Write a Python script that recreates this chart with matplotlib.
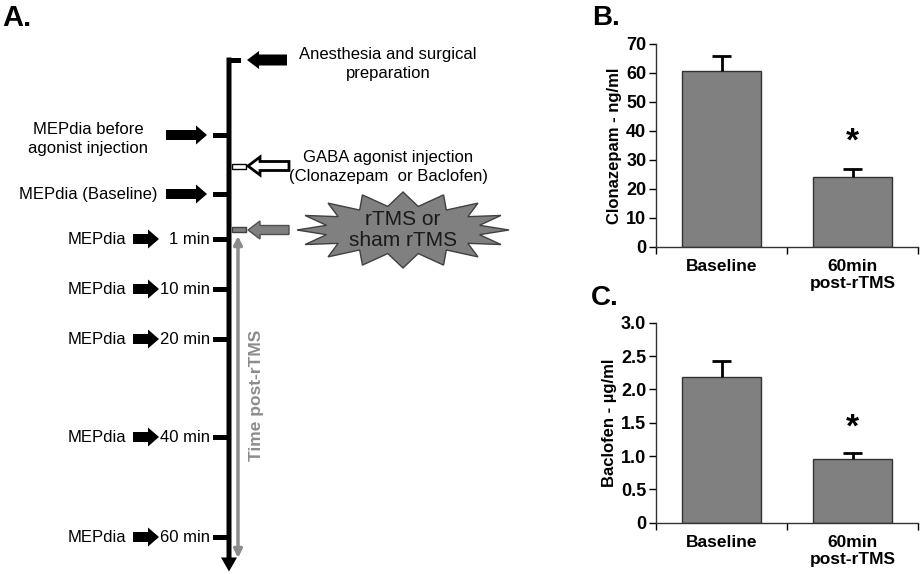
import numpy as np
import matplotlib
matplotlib.use("Agg")
import matplotlib.pyplot as plt
from matplotlib.patches import FancyArrow, Rectangle, Polygon, FancyArrowPatch

plt.rcParams['font.family'] = ['Liberation Sans', 'DejaVu Sans']

# ---------------- data ----------------
categories = ["Baseline", "60min\npost-rTMS"]
clonazepam_vals = [60.8, 24.2]
clonazepam_err = [5.2, 2.6]
baclofen_vals = [2.18, 0.95]
baclofen_err = [0.25, 0.09]
clon_ticks = [0, 10, 20, 30, 40, 50, 60, 70]
bac_ticks = [0, 0.5, 1.0, 1.5, 2.0, 2.5, 3.0]
bac_ticklabels = ["0", "0.5", "1.0", "1.5", "2.0", "2.5", "3.0"]

# timeline (panel A) - minute events after rTMS
minute_labels = ["1 min", "10 min", "20 min", "40 min", "60 min"]
minute_y = [239, 289, 339, 437, 537]
pre_labels = ["MEPdia before\nagonist injection", "MEPdia (Baseline)"]
pre_y = [135, 194]

W, H = 921, 574
fig = plt.figure(figsize=(W / 100, H / 100), dpi=100)

# ---------------- Panel A (diagram, pixel coordinates) ----------------
ax = fig.add_axes([0, 0, 1, 1])
ax.set_xlim(0, W)
ax.set_ylim(H, 0)
ax.axis('off')

fs = 12
lx = 229  # main timeline x
ax.add_patch(FancyArrow(lx, 57.5, 0, 514, width=5, head_width=16, head_length=14,
                        length_includes_head=True, color='black', lw=0))
ax.add_patch(Rectangle((lx - 2.5, 57.5), 14, 5, color='black', lw=0))

for y in pre_y + minute_y:
    ax.add_patch(Rectangle((213, y - 2.5), 16, 5, color='black', lw=0))

for lab, y in zip(pre_labels, pre_y):
    ax.add_patch(FancyArrow(166, y, 41, 0, width=10, head_width=19, head_length=11,
                            length_includes_head=True, color='black', lw=0))
ax.text(88, 139, pre_labels[0], ha='center', va='center', fontsize=fs, linespacing=1.3)
ax.text(157, 194, pre_labels[1], ha='right', va='center', fontsize=fs)

for lab, y in zip(minute_labels, minute_y):
    ax.text(126, y, "MEPdia", ha='right', va='center', fontsize=fs)
    ax.add_patch(FancyArrow(133, y, 26, 0, width=10, head_width=19, head_length=11,
                            length_includes_head=True, color='black', lw=0))
    ax.text(210, y, lab, ha='right', va='center', fontsize=fs)

ax.add_patch(FancyArrow(287, 60, -40, 0, width=11, head_width=18, head_length=12,
                        length_includes_head=True, color='black', lw=0))
ax.text(388, 64, "Anesthesia and surgical\npreparation", ha='center', va='center',
        fontsize=fs, linespacing=1.3)

ax.add_patch(Rectangle((232, 163.5), 14, 5, facecolor='white', edgecolor='black', lw=1))
ax.add_patch(FancyArrow(289, 166, -41, 0, width=9, head_width=18, head_length=12,
                        length_includes_head=True, facecolor='white', edgecolor='black', lw=2))
ax.text(388, 167, "GABA agonist injection\n(Clonazepam  or Baclofen)", ha='center', va='center',
        fontsize=fs, linespacing=1.3)

ax.add_patch(Rectangle((232, 227), 14, 5, facecolor='#7f7f7f', edgecolor='#404040', lw=1))
ax.add_patch(FancyArrow(289, 230, -41, 0, width=9, head_width=18, head_length=12,
                        length_includes_head=True, facecolor='#808080', edgecolor='#505050', lw=1))
n = 16
k = np.arange(2 * n)
ang = np.linspace(0, 2 * np.pi, 2 * n, endpoint=False)
rx = np.where(k % 2 == 0, 106, 78)
ry = np.where(k % 2 == 0, 38, 24)
cx, cy = 403, 230
pts = np.column_stack([cx + rx * np.cos(ang), cy + ry * np.sin(ang)])
ax.add_patch(Polygon(pts, closed=True, facecolor='#808080', edgecolor='#404040', lw=1))
ax.text(cx, 230, "rTMS or\nsham rTMS", ha='center', va='center', fontsize=15,
        color='#1a1a1a', linespacing=1.15)

ax.add_patch(FancyArrowPatch((238, 236), (238, 558), arrowstyle='<|-|>', mutation_scale=12,
                             color='#8c8c8c', lw=2.5, shrinkA=0, shrinkB=0))
ax.text(256, 395, "Time post-rTMS", rotation=90, ha='center', va='center', fontsize=12.5,
        fontweight='bold', color='#8c8c8c')

ax.text(2, 26, "A.", fontsize=21, fontweight='bold', ha='left', va='baseline')
ax.text(592, 25, "B.", fontsize=20, fontweight='bold', ha='left', va='baseline')
ax.text(591, 305, "C.", fontsize=20, fontweight='bold', ha='left', va='baseline')


def bar_panel(rect, vals, errs, ylim, ticks, ticklabels, ylabel, star_y):
    a = fig.add_axes(rect)
    x = np.arange(len(categories))
    a.bar(x, vals, width=0.6, color='#808080', edgecolor='#333333', linewidth=1, zorder=2)
    a.vlines(x, vals, np.array(vals) + np.array(errs), color='black', lw=2, zorder=3)
    a.hlines(np.array(vals) + np.array(errs), x - 0.07, x + 0.07, color='black', lw=2, zorder=3)
    a.text(1, star_y, "*", ha='center', va='center', fontsize=24, fontweight='bold')
    a.set_xlim(-0.5, 1.5)
    a.set_ylim(*ylim)
    a.set_yticks(ticks)
    a.set_yticklabels(ticklabels, fontsize=13, fontweight='bold')
    a.set_xticks([-0.5, 0.5, 1.5])
    a.set_xticklabels([])
    a.tick_params(axis='both', direction='out', length=5, width=1, pad=2)
    for i, c in enumerate(categories):
        a.text(i, -0.06, c, transform=a.get_xaxis_transform(), ha='center', va='top',
               fontsize=12.5, fontweight='bold', linespacing=1.2)
    a.set_ylabel(ylabel, fontsize=12, fontweight='bold', labelpad=3)
    for s in ['top', 'right']:
        a.spines[s].set_visible(False)
    for s in ['left', 'bottom']:
        a.spines[s].set_linewidth(1)
        a.spines[s].set_color('#333333')
    return a


bar_panel([656 / W, 1 - 246.7 / H, 262 / W, 202.7 / H], clonazepam_vals, clonazepam_err,
          (0, 70), clon_ticks, [str(t) for t in clon_ticks], "Clonazepam - ng/ml", 36)
bar_panel([656 / W, 1 - 522.7 / H, 262 / W, 200 / H], baclofen_vals, baclofen_err,
          (0, 3.0), bac_ticks, bac_ticklabels, "Baclofen - \u00b5g/ml", 1.42)

fig.savefig("out.png", dpi=100)
